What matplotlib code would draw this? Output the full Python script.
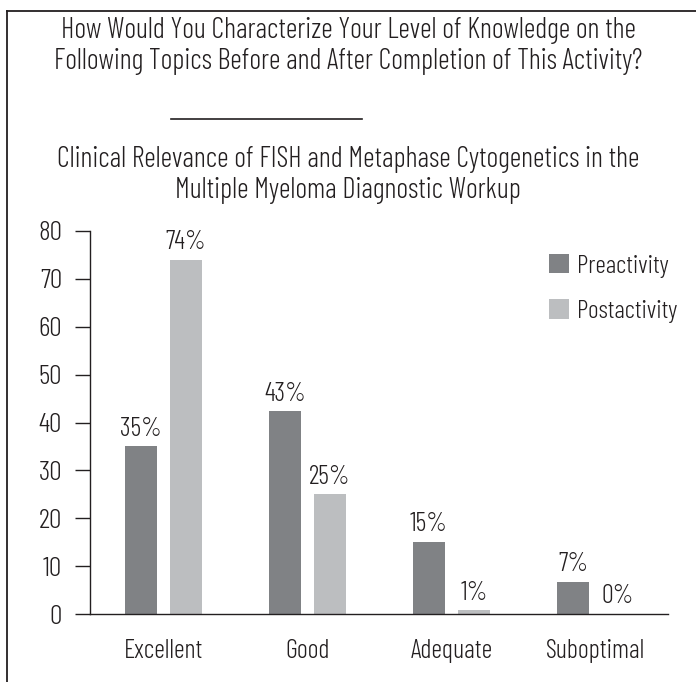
import matplotlib.pyplot as plt
from matplotlib.lines import Line2D
import numpy as np

plt.rcParams['font.family'] = ['Barlow Condensed', 'DejaVu Sans']
plt.rcParams['font.weight'] = 300

categories = ['Excellent', 'Good', 'Adequate', 'Suboptimal']
pre_values = [35, 42.3, 15.1, 6.7]
post_values = [74, 25, 0.8, 0]
pre_labels = ['35%', '43%', '15%', '7%']
post_labels = ['74%', '25%', '1%', '0%']
series_names = ['Preactivity', 'Postactivity']
y_ticks = [0, 10, 20, 30, 40, 50, 60, 70, 80]

title = ('How Would You Characterize Your Level of Knowledge on the\n'
         'Following Topics Before and After Completion of This Activity?')
subtitle = ('Clinical Relevance of FISH and Metaphase Cytogenetics in the\n'
            'Multiple Myeloma Diagnostic Workup')

text_color = '#231f20'
pre_color = '#808285'
post_color = '#bcbec0'

W, H = 696, 682
fig = plt.figure(figsize=(W / 100, H / 100), dpi=100)
ax = fig.add_axes([90 / W, 1 - 614 / H, 578 / W, 383 / H])

x = np.arange(len(categories))
bw = 0.222
off = 0.156
b1 = ax.bar(x - off, pre_values, bw, color=pre_color, label=series_names[0])
b2 = ax.bar(x + off, post_values, bw, color=post_color, label=series_names[1])

for rects, labels in [(b1, pre_labels), (b2, post_labels)]:
    for r, lab in zip(rects, labels):
        ax.annotate(lab, (r.get_x() + r.get_width() / 2, r.get_height()),
                    xytext=(0, 4), textcoords='offset points',
                    ha='center', va='bottom', fontsize=19, color=text_color)

ax.set_xlim(-0.51, 3.503)
ax.set_ylim(0, 80)
ax.set_yticks(y_ticks)
ax.set_xticks(x)
ax.set_xticklabels(categories)
ax.tick_params(axis='x', length=0, pad=18, labelsize=19, labelcolor=text_color)
ax.tick_params(axis='y', length=11, width=1, pad=9, labelsize=20,
               labelcolor=text_color, color=text_color)
for s in ['top', 'right']:
    ax.spines[s].set_visible(False)
for s in ['left', 'bottom']:
    ax.spines[s].set_color(text_color)
    ax.spines[s].set_linewidth(1)

ax.legend(loc='upper left', bbox_to_anchor=(549 / W, 1 - 254 / H),
          bbox_transform=fig.transFigure, frameon=False, fontsize=18.5,
          borderpad=0, borderaxespad=0,
          handlelength=0.78, handleheight=0.78, handletextpad=0.3,
          labelspacing=0.85, labelcolor=text_color)

fig.text(0.5, 1 - 46 / H, title, ha='center', va='center', fontsize=20.5,
         color=text_color, linespacing=1.18)
fig.add_artist(Line2D([171 / W, 362 / W], [1 - 119 / H] * 2, color=text_color, lw=1.2))
fig.text(0.5, 1 - 175 / H, subtitle, ha='center', va='center', fontsize=20.5,
         color=text_color, linespacing=1.2)

# frame lines (box cropped at right and bottom)
fig.add_artist(Line2D([7 / W, 7 / W], [0, 1 - 11 / H], color=text_color, lw=1.3))
fig.add_artist(Line2D([7 / W, 1], [1 - 11 / H] * 2, color=text_color, lw=1.3))

fig.savefig('out.png', dpi=100)
